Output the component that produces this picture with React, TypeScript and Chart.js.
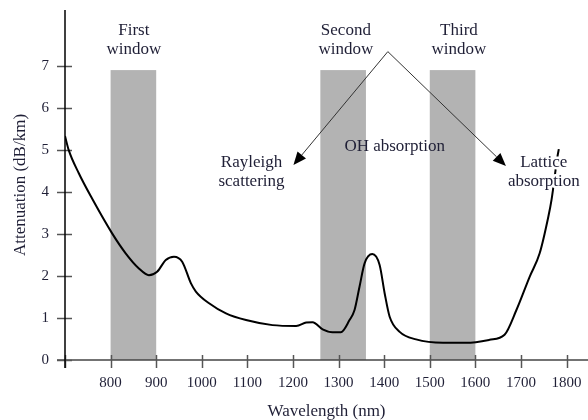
import React, { useEffect, useRef } from "react";
import { Chart, registerables } from "chart.js";

Chart.register(...registerables);

// ---- data ----
const wavelengths = [700, 708, 730, 760, 803, 833, 862, 884, 902, 921, 939, 957, 976, 987, 1016, 1053, 1097, 1155, 1207, 1229, 1243, 1265, 1287, 1305, 1324, 1335, 1346, 1357, 1374, 1390, 1401, 1412, 1434, 1470, 1529, 1580, 1631, 1664, 1690, 1719, 1741, 1760, 1767, 1780, 1783];
const attenuation = [5.33, 5.0, 4.45, 3.83, 3.02, 2.54, 2.18, 2.02, 2.1, 2.38, 2.46, 2.34, 1.83, 1.63, 1.35, 1.11, 0.95, 0.83, 0.81, 0.89, 0.9, 0.73, 0.66, 0.66, 0.95, 1.19, 1.75, 2.3, 2.52, 2.26, 1.59, 1.03, 0.67, 0.49, 0.41, 0.41, 0.48, 0.6, 1.19, 1.98, 2.54, 3.41, 3.81, 4.84, 5.02];

const xTickValues = [800, 900, 1000, 1100, 1200, 1300, 1400, 1500, 1600, 1700, 1800];
const xMinorTickValues = [700];
const yTickValues = [0, 1, 2, 3, 4, 5, 6, 7];

const bandStarts = [800, 1260, 1500];
const bandEnds = [900, 1360, 1600];
const bandTop = 6.9;

const windowLabels = ["First", "Second", "Third"];
const windowLabelX = [851, 1316, 1564];

const xMin = 700;
const xMax = 1847;
const yMin = 0;
const yMax = 8.33;

// annotations (data coordinates)
const arrowApex = { x: 1408, y: 7.34 };
const arrowTips = [
  { x: 1201, y: 4.64 },
  { x: 1667, y: 4.62 },
];
const noteTexts = [
  { lines: ["Rayleigh", "scattering"], x: 1109, y: 4.7, halo: false },
  { lines: ["OH absorption"], x: 1423, y: 5.08, halo: false },
  { lines: ["Lattice", "absorption"], x: 1750, y: 4.7, halo: true },
];

const TEXT = "#1f1f36";
const SERIF = '"Liberation Serif", "DejaVu Serif", serif';

const overlay = {
  id: "overlay",
  beforeDatasetsDraw(chart: any) {
    const { ctx, scales } = chart;
    const x = scales.x;
    const y = scales.y;
    ctx.save();
    // bands
    ctx.fillStyle = "#b3b3b3";
    for (let i = 0; i < bandStarts.length; i++) {
      const x0 = x.getPixelForValue(bandStarts[i]);
      const x1 = x.getPixelForValue(bandEnds[i]);
      const yt = y.getPixelForValue(bandTop);
      const yb = y.getPixelForValue(0);
      ctx.fillRect(x0, yt, x1 - x0, yb - yt);
    }
    const left = x.getPixelForValue(xMin);
    const bottom = y.getPixelForValue(0);
    // x axis line
    ctx.strokeStyle = "#444";
    ctx.lineWidth = 1.5;
    ctx.beginPath();
    ctx.moveTo(left - 8, bottom);
    ctx.lineTo(chart.width, bottom);
    ctx.stroke();
    // x ticks
    ctx.strokeStyle = "#555";
    ctx.lineWidth = 1.5;
    [...xMinorTickValues, ...xTickValues].forEach((v) => {
      const px = Math.round(x.getPixelForValue(v)) + 0.5;
      ctx.beginPath();
      ctx.moveTo(px, bottom - 5);
      ctx.lineTo(px, bottom + 8);
      ctx.stroke();
    });
    // y ticks
    yTickValues.forEach((v) => {
      const py = Math.round(y.getPixelForValue(v)) + 0.5;
      ctx.beginPath();
      ctx.moveTo(left - 8, py);
      ctx.lineTo(left + 7, py);
      ctx.stroke();
    });
    // y axis line
    ctx.strokeStyle = "#000";
    ctx.lineWidth = 1.5;
    ctx.beginPath();
    ctx.moveTo(left, chart.chartArea.top);
    ctx.lineTo(left, bottom + 8);
    ctx.stroke();
    ctx.restore();
  },
  afterDatasetsDraw(chart: any) {
    const { ctx, scales } = chart;
    const x = scales.x;
    const y = scales.y;
    ctx.save();
    ctx.font = `17px ${SERIF}`;
    ctx.textAlign = "center";
    ctx.textBaseline = "middle";
    ctx.fillStyle = TEXT;
    // window labels
    for (let i = 0; i < windowLabels.length; i++) {
      const px = x.getPixelForValue(windowLabelX[i]);
      ctx.fillText(windowLabels[i], px, y.getPixelForValue(7.84));
      ctx.fillText("window", px, y.getPixelForValue(7.39));
    }
    // notes
    noteTexts.forEach((n) => {
      const px = x.getPixelForValue(n.x);
      n.lines.forEach((line, j) => {
        const py = y.getPixelForValue(n.y) + j * 19;
        if (n.halo) {
          ctx.strokeStyle = "#fff";
          ctx.lineWidth = 5;
          ctx.lineJoin = "round";
          ctx.strokeText(line, px, py);
        }
        ctx.fillText(line, px, py);
      });
    });
    // arrows
    const ax = x.getPixelForValue(arrowApex.x);
    const ay = y.getPixelForValue(arrowApex.y);
    arrowTips.forEach((t) => {
      const tx = x.getPixelForValue(t.x);
      const ty = y.getPixelForValue(t.y);
      const ang = Math.atan2(ty - ay, tx - ax);
      const len = 13;
      const half = 5.5;
      const bx = tx - len * Math.cos(ang);
      const by = ty - len * Math.sin(ang);
      ctx.strokeStyle = "#333";
      ctx.lineWidth = 1;
      ctx.beginPath();
      ctx.moveTo(ax, ay);
      ctx.lineTo(bx, by);
      ctx.stroke();
      ctx.fillStyle = "#000";
      ctx.beginPath();
      ctx.moveTo(tx, ty);
      ctx.lineTo(bx + half * Math.sin(ang), by - half * Math.cos(ang));
      ctx.lineTo(bx - half * Math.sin(ang), by + half * Math.cos(ang));
      ctx.closePath();
      ctx.fill();
    });
    ctx.restore();
  },
};

export default function App() {
  const ref = useRef<HTMLCanvasElement | null>(null);
  useEffect(() => {
    if (!ref.current) return;
    const chart = new Chart(ref.current, {
      type: "line",
      data: {
        datasets: [
          {
            label: "Attenuation",
            data: wavelengths.map((w, i) => ({ x: w, y: attenuation[i] })),
            borderColor: "#000",
            borderWidth: 2,
            pointRadius: 0,
            fill: false,
            cubicInterpolationMode: "monotone",
          },
        ],
      },
      options: {
        animation: false,
        responsive: false,
        layout: { padding: { top: 10, left: 0, right: 0, bottom: 0 } },
        plugins: { legend: { display: false }, tooltip: { enabled: false } },
        scales: {
          x: {
            type: "linear",
            min: xMin,
            max: xMax,
            afterBuildTicks: (s: any) => {
              s.ticks = xTickValues.map((v) => ({ value: v }));
            },
            afterFit: (s: any) => {
              s.height = 60;
              s.paddingLeft = 0;
              s.paddingRight = 0;
            },
            grid: { display: false, drawTicks: false },
            border: { display: false },
            ticks: {
              padding: 14,
              color: TEXT,
              font: { family: SERIF, size: 15 },
              maxRotation: 0,
              autoSkip: false,
              callback: (v: any) => String(v),
            },
            title: {
              display: true,
              text: "Wavelength (nm)",
              color: TEXT,
              font: { family: SERIF, size: 17, lineHeight: 1 },
              padding: { top: 0, bottom: 0 },
            },
          },
          y: {
            type: "linear",
            min: yMin,
            max: yMax,
            afterBuildTicks: (s: any) => {
              s.ticks = yTickValues.map((v) => ({ value: v }));
            },
            afterFit: (s: any) => {
              s.width = 65;
              s.paddingTop = 0;
              s.paddingBottom = 0;
            },
            grid: { display: false, drawTicks: false },
            border: { display: false },
            ticks: {
              padding: 16,
              color: TEXT,
              font: { family: SERIF, size: 15 },
              autoSkip: false,
              callback: (v: any) => String(v),
            },
            title: {
              display: true,
              text: "Attenuation (dB/km)",
              color: TEXT,
              font: { family: SERIF, size: 17, lineHeight: 1 },
              padding: { top: 12, bottom: 0 },
            },
          },
        },
      },
      plugins: [overlay],
    } as any);
    return () => chart.destroy();
  }, []);
  return (
    <div style={{ position: "fixed", left: 0, top: 0, width: 588, height: 420, background: "#fff" }}>
      <canvas ref={ref} width={588} height={420} style={{ display: "block" }} />
    </div>
  );
}
